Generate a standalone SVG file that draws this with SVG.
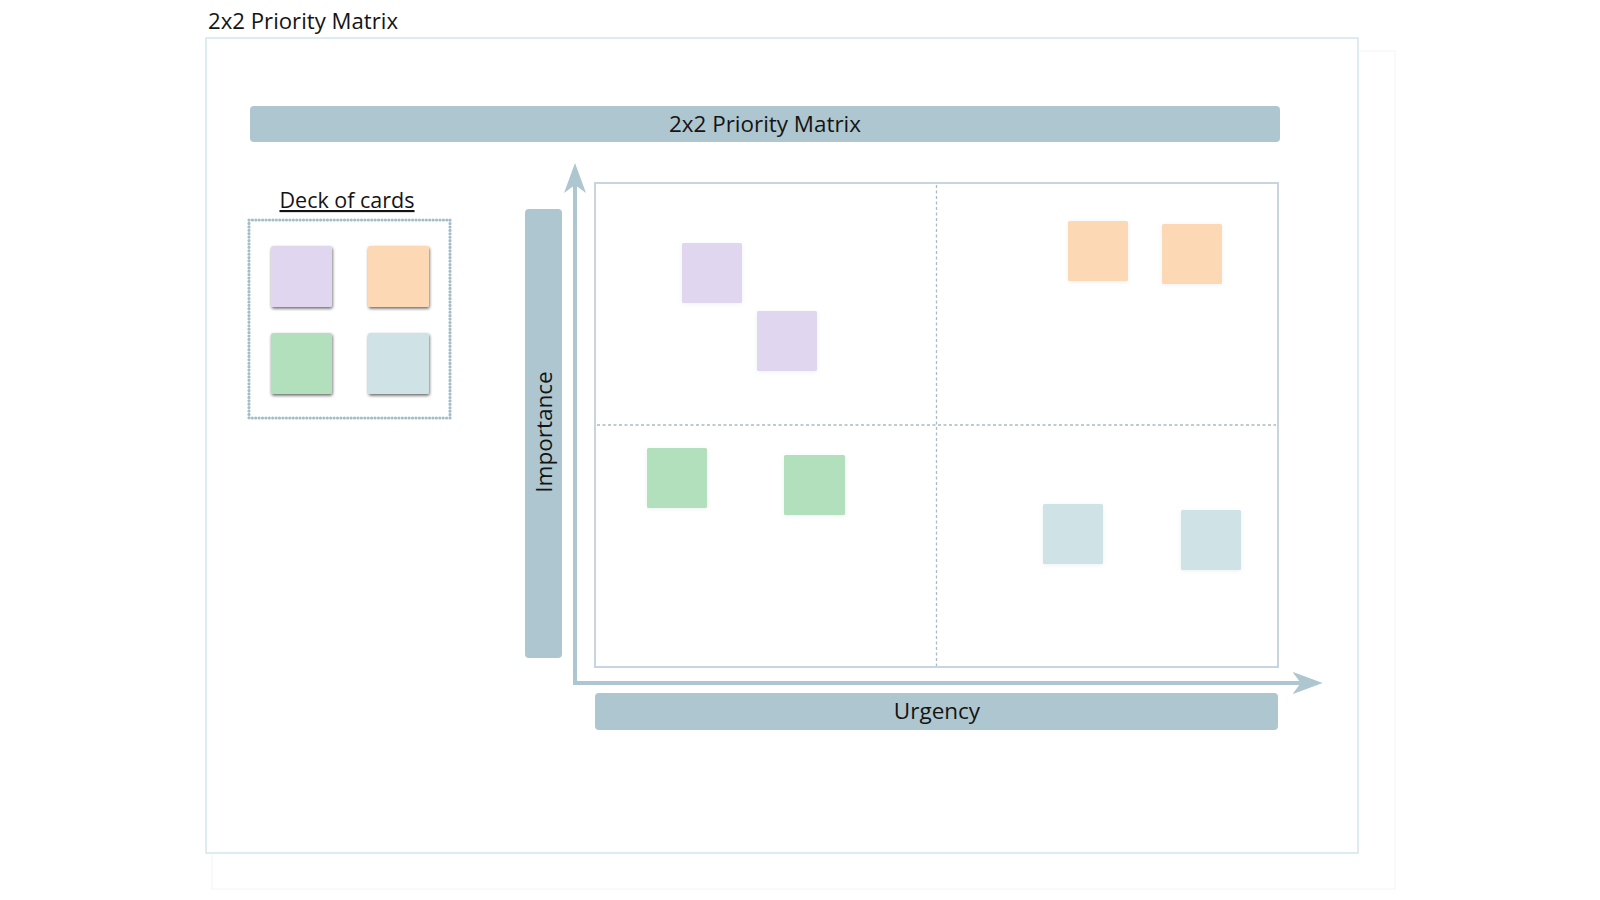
<svg xmlns="http://www.w3.org/2000/svg" width="1600" height="900" viewBox="0 0 1600 900">
  <style>
    .txt { font-family: "Open Sans", "Noto Sans", "Liberation Sans", sans-serif; fill: #141414; }
    .bar { fill: #AEC6CF; }
    .deckcard { filter: url(#deckShadow); }
    .mcard { filter: url(#softShadow); }
    .purple { fill: #E0D6F0; }
    .orange { fill: #FDD8B5; }
    .green { fill: #B2DFBC; }
    .blue { fill: #CFE3E7; }
    .axis { stroke: #AEC6CF; stroke-width: 4; fill: none; marker-end: url(#stealth); }
    .divider { stroke: #A9BBC5; stroke-width: 1.3; stroke-dasharray: 3 2.5; fill: none; }
  </style>
  <defs>
    <filter id="deckShadow" x="-20%" y="-20%" width="150%" height="150%">
      <feDropShadow dx="0.6" dy="1.6" stdDeviation="1.5" flood-color="#000" flood-opacity="0.6"/>
    </filter>
    <filter id="softShadow" x="-20%" y="-20%" width="150%" height="150%">
      <feDropShadow dx="0" dy="1" stdDeviation="2" flood-color="#8899a0" flood-opacity="0.15"/>
    </filter>
    <marker id="stealth" markerUnits="userSpaceOnUse" viewBox="0 0 30 22" refX="8" refY="11" markerWidth="30" markerHeight="22" orient="auto">
      <path d="M0,0 L30,11 L0,22 L8,11 Z" fill="#AEC6CF"/>
    </marker>
  </defs>

  <rect width="1600" height="900" fill="#FFFFFF"/>

  <!-- frame -->
  <g id="frame">
    <rect x="212" y="51" width="1183" height="838" fill="none" stroke="#F2F4F5" stroke-width="1"/>
    <rect x="206" y="38" width="1152" height="815" fill="#FFFFFF" stroke="#D3E6EC" stroke-width="1.5"/>
    <text class="txt" x="208" y="29" font-size="22.5" textLength="190" lengthAdjust="spacingAndGlyphs">2x2 Priority Matrix</text>
  </g>

  <!-- header -->
  <g id="header">
    <rect class="bar" x="250" y="106" width="1030" height="36" rx="4"/>
    <text class="txt" x="765" y="131.5" font-size="22.5" text-anchor="middle" textLength="192" lengthAdjust="spacingAndGlyphs">2x2 Priority Matrix</text>
  </g>

  <!-- deck of cards -->
  <g id="deck">
    <text class="txt" x="347" y="208" font-size="21.5" text-anchor="middle" text-decoration="underline">Deck of cards</text>
    <rect x="249" y="220" width="201" height="198" fill="none" stroke="#A3BEC8" stroke-width="3.2" stroke-dasharray="0.01 3.4" stroke-linecap="round"/>
    <rect class="deckcard purple" x="271" y="246" width="61" height="61" rx="2"/>
    <rect class="deckcard orange" x="368" y="246" width="61" height="61" rx="2"/>
    <rect class="deckcard green" x="271" y="333" width="61" height="61" rx="2"/>
    <rect class="deckcard blue" x="368" y="333" width="61" height="61" rx="2"/>
  </g>

  <!-- importance label -->
  <g id="importance">
    <rect class="bar" x="525" y="209" width="37" height="449" rx="4"/>
    <text class="txt" transform="translate(552,432) rotate(-90)" font-size="22.5" text-anchor="middle">Importance</text>
  </g>

  <!-- urgency label -->
  <g id="urgency">
    <rect class="bar" x="595" y="693" width="683" height="37" rx="4"/>
    <text class="txt" x="937" y="719" font-size="22.5" text-anchor="middle">Urgency</text>
  </g>

  <!-- matrix -->
  <g id="matrix">
    <rect x="595" y="183" width="683" height="484" fill="#FFFFFF" stroke="#C8D5DE" stroke-width="2"/>
    <line class="divider" x1="936.5" y1="185" x2="936.5" y2="666"/>
    <line class="divider" x1="597" y1="425" x2="1276" y2="425"/>
  </g>

  <!-- cards in quadrants -->
  <g id="card-p1"><rect class="mcard purple" x="682" y="243" width="60" height="60" rx="1.5"/></g>
  <g id="card-p2"><rect class="mcard purple" x="757" y="311" width="60" height="60" rx="1.5"/></g>
  <g id="card-o1"><rect class="mcard orange" x="1068" y="221" width="60" height="60" rx="1.5"/></g>
  <g id="card-o2"><rect class="mcard orange" x="1162" y="224" width="60" height="60" rx="1.5"/></g>
  <g id="card-g1"><rect class="mcard green" x="647" y="448" width="60" height="60" rx="1.5"/></g>
  <g id="card-g2"><rect class="mcard green" x="784" y="455" width="61" height="60" rx="1.5"/></g>
  <g id="card-b1"><rect class="mcard blue" x="1043" y="504" width="60" height="60" rx="1.5"/></g>
  <g id="card-b2"><rect class="mcard blue" x="1181" y="510" width="60" height="60" rx="1.5"/></g>

  <!-- connectors (axes) -->
  <g id="connectors">
    <path class="axis" d="M575,685 L575,185"/>
    <path class="axis" d="M573,683 L1300.7,683"/>
  </g>
</svg>
